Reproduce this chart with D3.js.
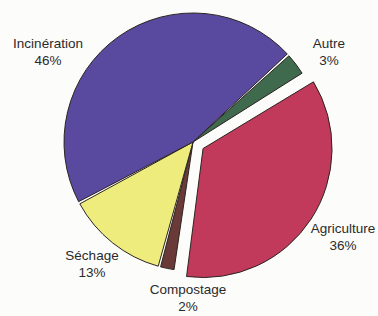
<!DOCTYPE html>
<html lang="fr">
<head>
<meta charset="UTF-8" />
<title>Pie</title>
<script src="https://d3js.org/d3.v7.min.js"></script>
<style>
  html, body { margin: 0; padding: 0; background: #fcfcfa; }
  svg { display: block; }
  text { font-family: "Liberation Sans", Arial, sans-serif; font-size: 13.5px; fill: #2a2a2a; }
</style>
</head>
<body>
<div id="chart"></div>
<script>
// data, in drawing order (clockwise from Autre)
const categories = ["Autre", "Agriculture", "Compostage", "Séchage", "Incinération"];
const values = [3, 36, 2, 13, 46];
const colors = ["#3f6a4e", "#c23a5b", "#6a3a38", "#eeec7c", "#5a4a9f"];
const exploded = ["Agriculture"];

// where each label sits (layout, not data)
const labelPos = {
  "Incinération": [48, 43],
  "Autre": [329, 43],
  "Agriculture": [343, 228],
  "Compostage": [188, 289],
  "Séchage": [92, 255]
};

const width = 378, height = 316;
const cx = 193, cy = 142, r = 129;
const startAngle = 47.5 * Math.PI / 180;

const svg = d3.select("#chart").append("svg")
  .attr("width", width)
  .attr("height", height);

const pie = d3.pie()
  .sort(null)
  .value(d => d.value)
  .startAngle(startAngle)
  .endAngle(startAngle + 2 * Math.PI);

const arc = d3.arc()
  .innerRadius(0)
  .outerRadius(r)
  .padRadius(r)
  .padAngle(2.5 / r);

const data = categories.map((c, i) => ({ name: c, value: values[i], color: colors[i] }));
const arcs = pie(data);

const g = svg.append("g").attr("transform", `translate(${cx},${cy})`);

g.selectAll("path")
  .data(arcs)
  .join("path")
  .attr("d", arc)
  .attr("transform", d => {
    if (!exploded.includes(d.data.name)) return null;
    const a = (d.startAngle + d.endAngle) / 2;
    const off = 12;
    return `translate(${Math.sin(a) * off},${-Math.cos(a) * off})`;
  })
  .attr("fill", d => d.data.color)
  .attr("stroke", "#2b2420")
  .attr("stroke-width", 1)
  .attr("stroke-linejoin", "round");

const labels = svg.selectAll("g.lbl")
  .data(arcs)
  .join("g")
  .attr("class", "lbl")
  .attr("transform", d => `translate(${labelPos[d.data.name][0]},${labelPos[d.data.name][1]})`);

labels.append("text")
  .attr("text-anchor", "middle")
  .attr("dy", "0.35em")
  .text(d => d.data.name);

labels.append("text")
  .attr("text-anchor", "middle")
  .attr("y", 17)
  .attr("dy", "0.35em")
  .text(d => d.data.value + "%");
</script>
</body>
</html>
